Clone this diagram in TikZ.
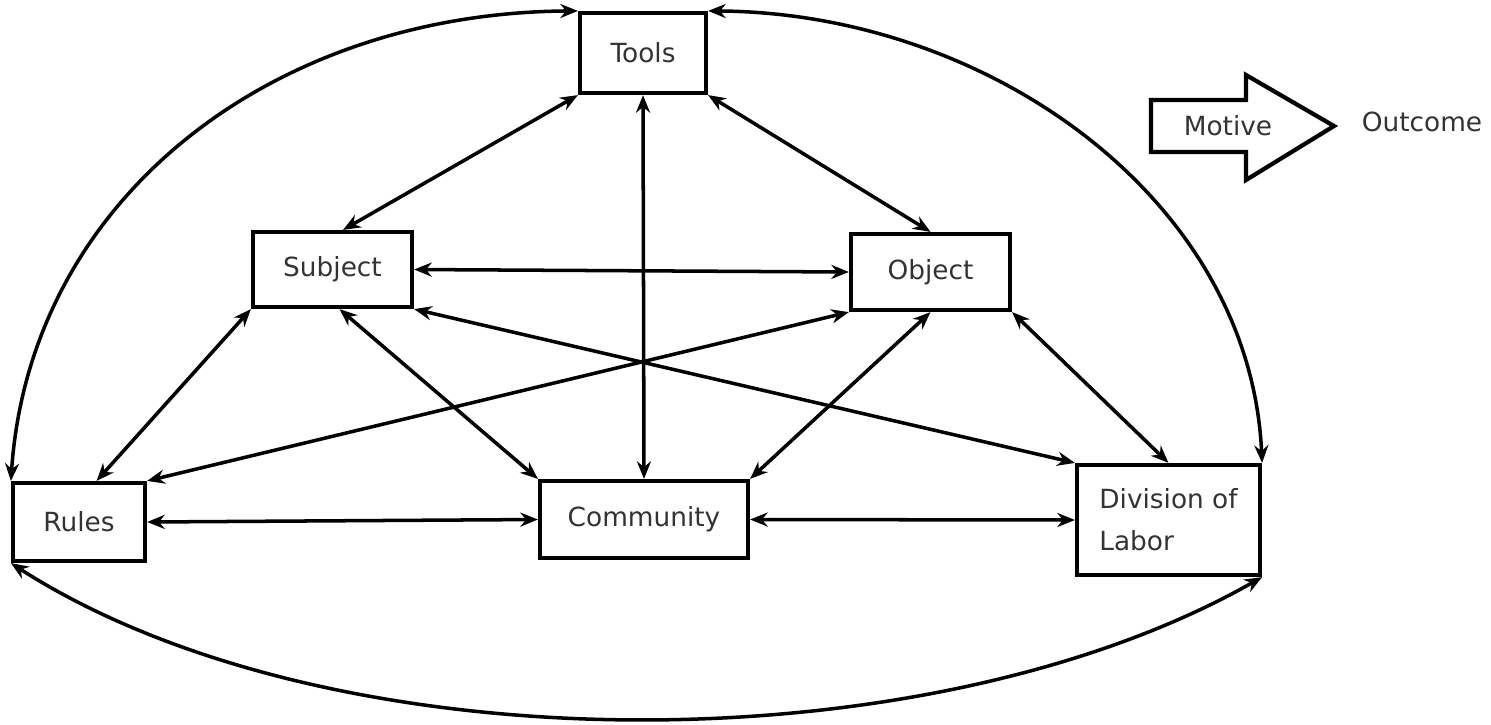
\documentclass[tikz,border=0pt]{standalone}
\usepackage{fontspec}
\setmainfont{DejaVu Sans}
\usetikzlibrary{arrows.meta}

\begin{document}
\begin{tikzpicture}[
	box/.style={draw, line width=2.4pt, inner sep=0pt, text=black!80, font=\fontsize{15}{24}\selectfont},
	link/.style={line width=2pt, {Stealth[length=10pt,width=8pt]}-{Stealth[length=10pt,width=8pt]}}
]
	\useasboundingbox (0,0) rectangle (29.82,-14.48);

	% Boxes
	\node[box, minimum width=2.52cm, minimum height=1.6cm] (tools) at (12.86,-1.06) {Tools};
	\node[box, minimum width=3.18cm, minimum height=1.5cm] (subject) at (6.65,-5.39) {Subject};
	\node[box, minimum width=3.18cm, minimum height=1.52cm] (object) at (18.61,-5.44) {Object};
	\node[box, minimum width=2.64cm, minimum height=1.56cm] (rules) at (1.58,-10.44) {Rules};
	\node[box, minimum width=4.16cm, minimum height=1.54cm] (community) at (12.88,-10.39) {Community};
	\node[box, minimum width=3.66cm, minimum height=2.2cm, align=left] (labor) at (23.37,-10.4) {Division of\\Labor};

	% Straight links
	\draw[link] (tools.south west) -- ([xshift=6pt]subject.north);
	\draw[link] (tools.south) -- (community.north);
	\draw[link] (tools.south east) -- (object.north);
	\draw[link] (subject.east) -- (object.west);
	\draw[link] (subject.south west) -- ([xshift=10pt]rules.north);
	\draw[link] ([xshift=4pt]subject.south) -- (community.north west);
	\draw[link] (subject.south east) -- (labor.north west);
	\draw[link] (object.south west) -- (rules.north east);
	\draw[link] (object.south) -- (community.north east);
	\draw[link] (object.south east) -- (labor.north);
	\draw[link] (rules.east) -- (community.west);
	\draw[link] (community.east) -- (labor.west);

	% Outer arcs
	\draw[link] (tools.north west) .. controls (5.4,-0.26) and (0.6,-4.0) .. (rules.north west);
	\draw[link] (tools.north east) .. controls (19.8,-0.26) and (25.0,-4.0) .. (labor.north east);
	\draw[link] (rules.south west) .. controls (6.6,-15.36) and (18.52,-15.36) .. (labor.south east);

	% Motive arrow
	\draw[line width=2.4pt] (23.02,-2.0) -- (24.92,-2.0) -- (24.92,-1.5) -- (26.68,-2.52)
		-- (24.92,-3.6) -- (24.92,-3.04) -- (23.02,-3.04) -- cycle;
	\node[text=black!80, font=\fontsize{15}{18}\selectfont] (motive) at (24.56,-2.52) {Motive};
	\node[text=black!80, font=\fontsize{15}{18}\selectfont] (outcome) at (28.44,-2.44) {Outcome};
\end{tikzpicture}
\end{document}
